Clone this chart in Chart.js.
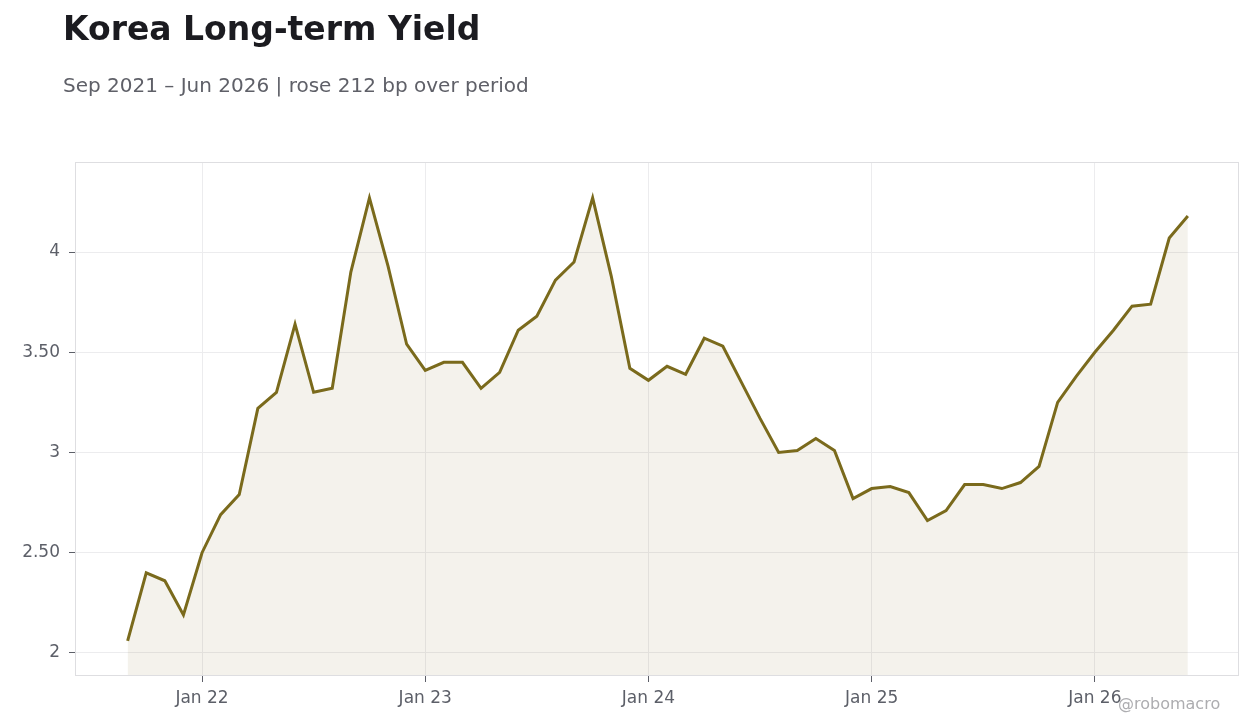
<!DOCTYPE html>
<html>
<head>
<meta charset="utf-8">
<script src="https://cdn.jsdelivr.net/npm/chart.js@4/dist/chart.umd.min.js"></script>
<style>
  html, body { margin: 0; padding: 0; background: #ffffff; }
  #wrap { position: relative; width: 1260px; height: 728px; font-family: "DejaVu Sans", sans-serif; }
  #title { position: absolute; left: 63px; top: 9px; font-size: 33px; font-weight: bold; color: #1b1b20; line-height: normal; white-space: nowrap; }
  #subtitle { position: absolute; left: 63px; top: 73px; font-size: 20px; color: #5f6068; line-height: normal; white-space: nowrap; }
  #credit { position: absolute; left: 1118px; top: 694px; font-size: 16px; color: #adadb0; line-height: normal; white-space: nowrap; }
  #chart_box { position: absolute; left: 0; top: 0; width: 1260px; height: 728px; }
</style>
</head>
<body>
<div id="wrap">
  <div id="chart_box"><canvas id="yield_canvas"></canvas></div>
  <div id="title">Korea Long-term Yield</div>
  <div id="subtitle">Sep 2021 – Jun 2026 | rose 212 bp over period</div>
  <div id="credit">@robomacro</div>
</div>
<script>
const months = [
  '2021-09', '2021-10', '2021-11', '2021-12',
  '2022-01', '2022-02', '2022-03', '2022-04', '2022-05', '2022-06',
  '2022-07', '2022-08', '2022-09', '2022-10', '2022-11', '2022-12',
  '2023-01', '2023-02', '2023-03', '2023-04', '2023-05', '2023-06',
  '2023-07', '2023-08', '2023-09', '2023-10', '2023-11', '2023-12',
  '2024-01', '2024-02', '2024-03', '2024-04', '2024-05', '2024-06',
  '2024-07', '2024-08', '2024-09', '2024-10', '2024-11', '2024-12',
  '2025-01', '2025-02', '2025-03', '2025-04', '2025-05', '2025-06',
  '2025-07', '2025-08', '2025-09', '2025-10', '2025-11', '2025-12',
  '2026-01', '2026-02', '2026-03', '2026-04', '2026-05', '2026-06'
];

const yields = [
  2.06, 2.40, 2.36, 2.19,
  2.50, 2.69, 2.79, 3.22, 3.30, 3.64,
  3.30, 3.32, 3.90, 4.27, 3.93, 3.54,
  3.41, 3.45, 3.45, 3.32, 3.40, 3.61,
  3.68, 3.86, 3.95, 4.27, 3.88, 3.42,
  3.36, 3.43, 3.39, 3.57, 3.53, 3.35,
  3.17, 3.00, 3.01, 3.07, 3.01, 2.77,
  2.82, 2.83, 2.80, 2.66, 2.71, 2.84,
  2.84, 2.82, 2.85, 2.93, 3.25, 3.38,
  3.50, 3.61, 3.73, 3.74, 4.07, 4.18
];

const x_tick_months = ['2022-01', '2023-01', '2024-01', '2025-01', '2026-01'];
const x_tick_labels = ['Jan 22', 'Jan 23', 'Jan 24', 'Jan 25', 'Jan 26'];
const y_ticks = [2, 2.5, 3, 3.5, 4];

// months since Jan 2022, so the x axis is a plain linear scale
function month_offset(ym) {
  const [y, m] = ym.split('-').map(Number);
  return (y - 2022) * 12 + (m - 1);
}

const points = months.map((m, i) => ({ x: month_offset(m), y: yields[i] }));
const x_tick_values = x_tick_months.map(month_offset);

const tick_font = { family: 'DejaVu Sans', size: 17 };
const tick_color = '#5c5f68';
const grid_color = '#ececee';

// light box round the plot area
const frame_plugin = {
  id: 'frame',
  afterDraw(chart) {
    const a = chart.chartArea;
    const ctx = chart.ctx;
    ctx.save();
    ctx.strokeStyle = '#dedee1';
    ctx.lineWidth = 1;
    ctx.strokeRect(a.left + 0.5, a.top + 0.5, a.right - a.left - 1, a.bottom - a.top - 1);
    ctx.restore();
  }
};

new Chart(document.getElementById('yield_canvas'), {
  type: 'line',
  data: {
    datasets: [{
      data: points,
      borderColor: '#7a6a1c',
      borderWidth: 3,
      backgroundColor: 'rgba(123, 107, 30, 0.085)',
      fill: 'start',
      pointRadius: 0,
      tension: 0
    }]
  },
  options: {
    responsive: true,
    maintainAspectRatio: false,
    animation: false,
    layout: { padding: { top: 162, right: 21, left: 0, bottom: 0 } },
    plugins: {
      legend: { display: false },
      tooltip: { enabled: false }
    },
    scales: {
      x: {
        type: 'linear',
        min: -6.83,
        max: 55.75,
        afterBuildTicks: (scale) => {
          scale.ticks = x_tick_values.map(v => ({ value: v }));
        },
        afterFit: (scale) => { scale.height = 52; },
        ticks: {
          font: tick_font,
          color: tick_color,
          padding: 6,
          maxRotation: 0,
          callback: (v) => x_tick_labels[x_tick_values.indexOf(v)]
        },
        grid: { color: grid_color, tickColor: tick_color, tickLength: 6 },
        border: { display: false }
      },
      y: {
        min: 1.885,
        max: 4.449,
        afterBuildTicks: (scale) => {
          scale.ticks = y_ticks.map(v => ({ value: v }));
        },
        afterFit: (scale) => { scale.width = 75; },
        ticks: {
          font: tick_font,
          color: tick_color,
          padding: 9,
          callback: (v) => (Number.isInteger(v) ? String(v) : v.toFixed(2))
        },
        grid: { color: grid_color, tickColor: tick_color, tickLength: 6 },
        border: { display: false }
      }
    }
  },
  plugins: [frame_plugin]
});
</script>
</body>
</html>
